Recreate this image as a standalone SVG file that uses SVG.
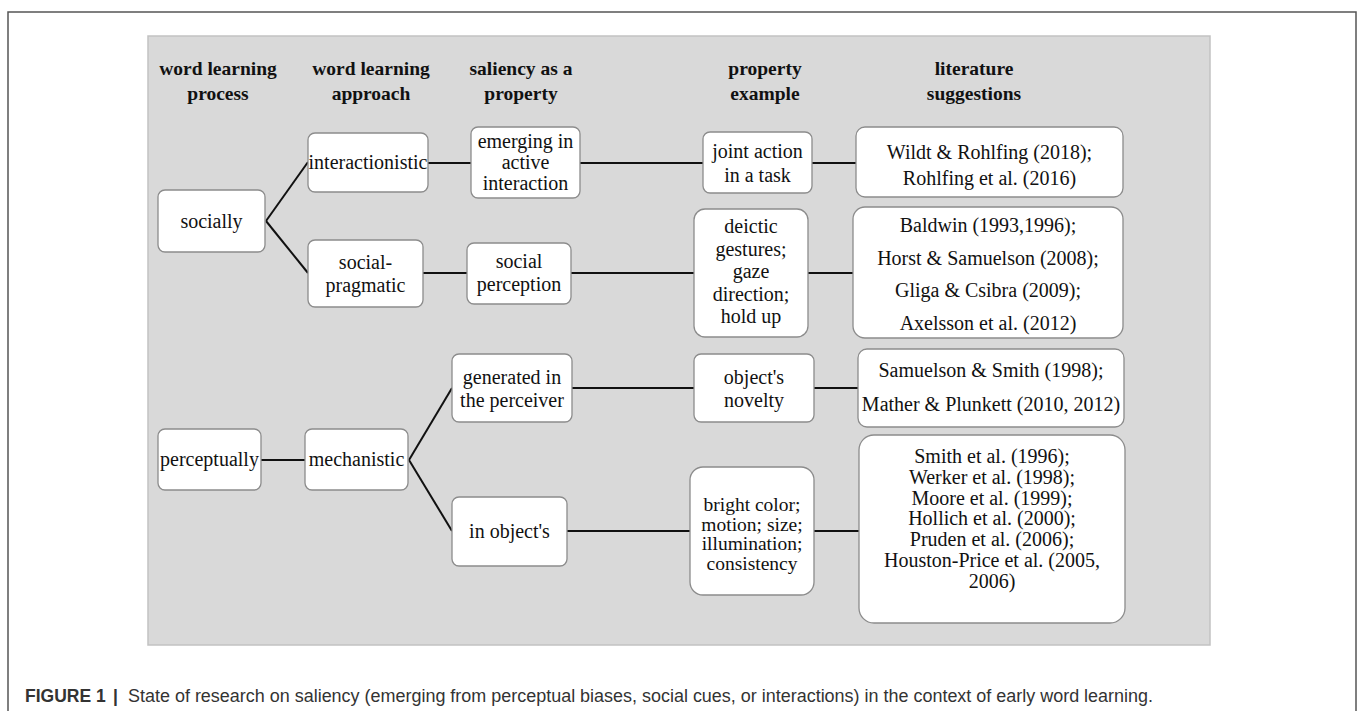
<svg xmlns="http://www.w3.org/2000/svg" width="1358" height="711" viewBox="0 0 1358 711">
<style>
.frame{fill:#fff;stroke:#555;stroke-width:1.5}
.panel{fill:#d9d9d9;stroke:#c2c2c2;stroke-width:1.5}
.box{fill:#fff;stroke:#8c8c8c;stroke-width:1.3}
.t{font-family:"Liberation Serif","Times New Roman",serif;font-size:20px;fill:#111;text-anchor:middle}
.s{font-size:19.5px}
.h{font-family:"Liberation Serif","Times New Roman",serif;font-size:19.5px;font-weight:bold;fill:#111;text-anchor:middle}
.c{stroke:#111;stroke-width:2;fill:none}
.cap{font-family:"Liberation Sans",Arial,sans-serif;font-size:17.5px;fill:#333}
</style>
<rect class="frame" x="8" y="12" width="1348" height="720"/>
<rect class="panel" x="148" y="36" width="1062" height="609"/>
<g id="headers">
<text class="h" x="218" y="75">word learning</text><text class="h" x="218" y="100">process</text>
<text class="h" x="371" y="75">word learning</text><text class="h" x="371" y="100">approach</text>
<text class="h" x="521" y="75">saliency as a</text><text class="h" x="521" y="100">property</text>
<text class="h" x="765" y="75">property</text><text class="h" x="765" y="100">example</text>
<text class="h" x="974" y="75">literature</text><text class="h" x="974" y="100">suggestions</text>
</g>
<g id="connectors">
<line class="c" x1="266" y1="221" x2="308" y2="162"/>
<line class="c" x1="266" y1="221" x2="308" y2="273"/>
<line class="c" x1="428" y1="163" x2="471" y2="163"/>
<line class="c" x1="580" y1="163" x2="703" y2="163"/>
<line class="c" x1="812" y1="163" x2="856" y2="163"/>
<line class="c" x1="423" y1="273" x2="467" y2="273"/>
<line class="c" x1="571" y1="273" x2="694" y2="273"/>
<line class="c" x1="808" y1="273" x2="853" y2="273"/>
<line class="c" x1="261" y1="460" x2="305" y2="460"/>
<line class="c" x1="409" y1="460" x2="452" y2="388"/>
<line class="c" x1="409" y1="460" x2="452" y2="531"/>
<line class="c" x1="572" y1="388" x2="694" y2="388"/>
<line class="c" x1="814" y1="388" x2="858" y2="388"/>
<line class="c" x1="567" y1="531" x2="690" y2="531"/>
<line class="c" x1="814" y1="531" x2="859" y2="531"/>
</g>
<g id="socially"><rect class="box" x="158" y="190" width="107" height="62" rx="7"/><text class="t" x="211.5" y="228">socially</text></g>
<g id="interactionistic"><rect class="box" x="308" y="133" width="120" height="59" rx="7"/><text class="t" x="368" y="169">interactionistic</text></g>
<g id="emerging"><rect class="box" x="471" y="127" width="109" height="71" rx="7"/><text class="t" x="525.5" y="148">emerging in</text><text class="t" x="525.5" y="169">active</text><text class="t" x="525.5" y="190">interaction</text></g>
<g id="joint"><rect class="box" x="703" y="132" width="109" height="61" rx="7"/><text class="t" x="757.5" y="158">joint action</text><text class="t" x="757.5" y="182">in a task</text></g>
<g id="lit1"><rect class="box" x="856" y="127" width="267" height="70" rx="9"/><text class="t" x="989.5" y="159">Wildt &amp; Rohlfing (2018);</text><text class="t" x="989.5" y="185">Rohlfing et al. (2016)</text></g>
<g id="socialpragmatic"><rect class="box" x="308" y="240" width="115" height="67" rx="7"/><text class="t" x="365.5" y="269">social-</text><text class="t" x="365.5" y="292">pragmatic</text></g>
<g id="socialperception"><rect class="box" x="467" y="243" width="104" height="61" rx="7"/><text class="t" x="519" y="268">social</text><text class="t" x="519" y="291">perception</text></g>
<g id="deictic"><rect class="box" x="694" y="209" width="114" height="128" rx="11"/><text class="t" x="751" y="233">deictic</text><text class="t" x="751" y="255.5">gestures;</text><text class="t" x="751" y="278">gaze</text><text class="t" x="751" y="300.5">direction;</text><text class="t" x="751" y="323">hold up</text></g>
<g id="lit2"><rect class="box" x="853" y="207" width="270" height="131" rx="12"/><text class="t" x="988" y="232">Baldwin (1993,1996);</text><text class="t" x="988" y="264.5">Horst &amp; Samuelson (2008);</text><text class="t" x="988" y="297">Gliga &amp; Csibra (2009);</text><text class="t" x="988" y="329.5">Axelsson et al. (2012)</text></g>
<g id="generated"><rect class="box" x="452" y="354" width="120" height="68" rx="7"/><text class="t" x="512" y="384">generated in</text><text class="t" x="512" y="407">the perceiver</text></g>
<g id="novelty"><rect class="box" x="694" y="354" width="120" height="68" rx="7"/><text class="t" x="754" y="384">object's</text><text class="t" x="754" y="407">novelty</text></g>
<g id="lit3"><rect class="box" x="858" y="349" width="266" height="78" rx="9"/><text class="t" x="991" y="377">Samuelson &amp; Smith (1998);</text><text class="t" x="991" y="411">Mather &amp; Plunkett (2010, 2012)</text></g>
<g id="perceptually"><rect class="box" x="158" y="429" width="103" height="61" rx="7"/><text class="t" x="209.5" y="466">perceptually</text></g>
<g id="mechanistic"><rect class="box" x="305" y="429" width="103" height="61" rx="7"/><text class="t" x="356.5" y="466">mechanistic</text></g>
<g id="inobjects"><rect class="box" x="452" y="497" width="115" height="69" rx="7"/><text class="t" x="509.5" y="538">in object's</text></g>
<g id="bright"><rect class="box" x="690" y="467" width="124" height="128" rx="13"/><text class="t s" x="752" y="511">bright color;</text><text class="t s" x="752" y="530.5">motion; size;</text><text class="t s" x="752" y="550">illumination;</text><text class="t s" x="752" y="569.5">consistency</text></g>
<g id="lit4"><rect class="box" x="859" y="435" width="266" height="188" rx="15"/><text class="t" x="992" y="463">Smith et al. (1996);</text><text class="t" x="992" y="484">Werker et al. (1998);</text><text class="t" x="992" y="504.5">Moore et al. (1999);</text><text class="t" x="992" y="525">Hollich et al. (2000);</text><text class="t" x="992" y="546">Pruden et al. (2006);</text><text class="t" x="992" y="567">Houston-Price et al. (2005,</text><text class="t" x="992" y="588">2006)</text></g>
<g id="caption">
<text class="cap" x="25" y="702" font-weight="bold" fill="#231f20">FIGURE 1</text>
<text class="cap" x="113" y="702" font-weight="bold" fill="#555">|</text>
<text class="cap" x="128" y="702" textLength="1025" lengthAdjust="spacingAndGlyphs">State of research on saliency (emerging from perceptual biases, social cues, or interactions) in the context of early word learning.</text>
</g>
</svg>
